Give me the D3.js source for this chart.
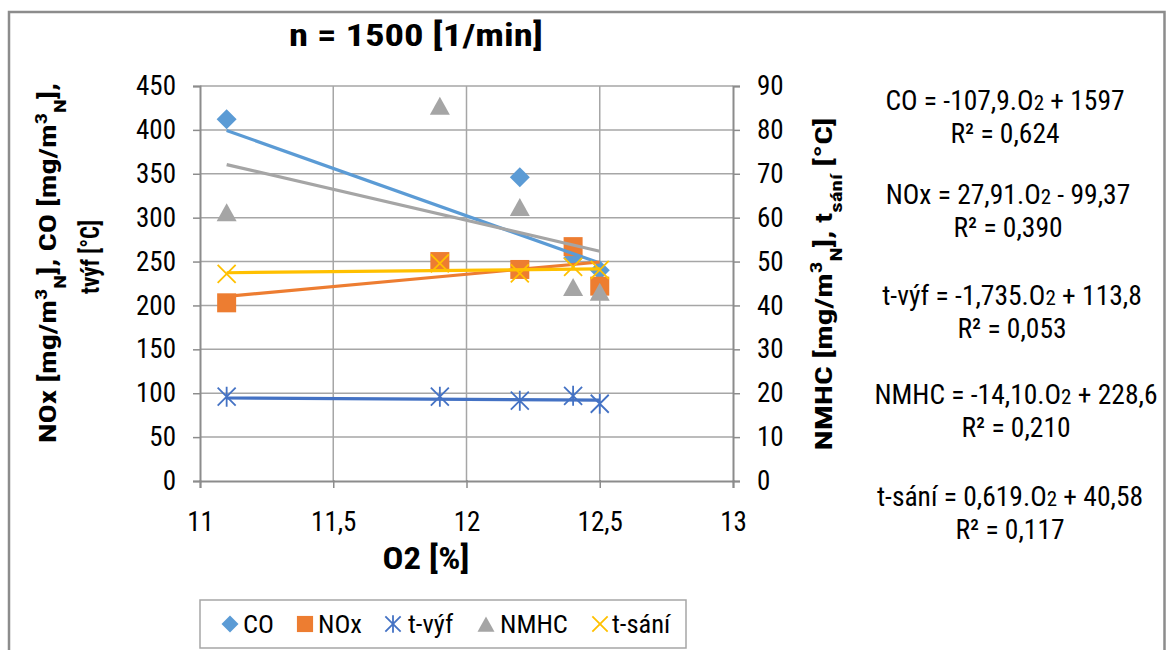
<!DOCTYPE html>
<html><head><meta charset="utf-8">
<script src="https://cdn.jsdelivr.net/npm/d3@7"></script>
<style>
body{margin:0;background:#fff;}
text{font-family:"Roboto Condensed","Liberation Sans Narrow","Arial Narrow",sans-serif;fill:#000;}
</style></head><body>
<svg id="c" width="1169" height="650"></svg>
<script>
const o2 = [11.1, 11.9, 12.2, 12.4, 12.5];
const coVals   = [412, null, 346, 254, 240];
const noxVals  = [203, 250, 241, 267, 222];
const tvyfVals = [96, 96, 91.5, 97, 88];
const nmhcVals = [61, 85.3, 62.2, 44, 42.9];
const tsaniVals= [47.2, 49.6, 47.3, 48.8, 48.1];
const seriesNames = ["CO","NOx","t-výf","NMHC","t-sání"];
const slopes = [-107.9, 27.91, -1.735, -14.10, 0.619];
const intercepts = [1597, -99.37, 113.8, 228.6, 40.58];
const eqLabels = ["CO = -107,9.O2 + 1597","NOx = 27,91.O2 - 99,37","t-výf = -1,735.O2 + 113,8","NMHC = -14,10.O2 + 228,6","t-sání = 0,619.O2 + 40,58"];
const r2Labels = ["R² = 0,624","R² = 0,390","R² = 0,053","R² = 0,210","R² = 0,117"];
const xTicks = [11, 11.5, 12, 12.5, 13];
const yLeftTicks = [0,50,100,150,200,250,300,350,400,450];
const yRightTicks = [0,10,20,30,40,50,60,70,80,90];

const colors = ["#5b9bd5","#ed7d31","#4472c4","#a5a5a5","#ffc000"];
const allVals = [coVals, noxVals, tvyfVals, nmhcVals, tsaniVals];
const axisOf = [0,0,0,1,1];

const svg = d3.select("#c");
const gridC = "#a6a6a6", axC = "#8c8c8c";
svg.append("path").attr("d","M9,652 V12 H1164.5 V652").attr("fill","none").attr("stroke","#8c8c8c").attr("stroke-width",2.5);

const x = d3.scaleLinear().domain([11,13]).range([200,733]);
const yL = d3.scaleLinear().domain([0,450]).range([481,86]);
const yR = d3.scaleLinear().domain([0,90]).range([481,86]);
const ys = [yL, yR];

svg.append("g").selectAll("line").data(yLeftTicks.slice(1)).join("line")
  .attr("x1",200).attr("x2",733).attr("y1",d=>yL(d)).attr("y2",d=>yL(d))
  .attr("stroke",gridC).attr("stroke-width",1.5);
svg.append("g").selectAll("line").data(xTicks.slice(1,-1)).join("line")
  .attr("x1",d=>x(d)).attr("x2",d=>x(d)).attr("y1",86).attr("y2",481)
  .attr("stroke",gridC).attr("stroke-width",1.5);

const axL = svg.append("g").attr("transform","translate(200,0)")
  .call(d3.axisLeft(yL).tickValues(yLeftTicks).tickSize(7).tickPadding(17).tickFormat(d3.format("d")));
const axR = svg.append("g").attr("transform","translate(733,0)")
  .call(d3.axisRight(yR).tickValues(yRightTicks).tickSize(7).tickPadding(17).tickFormat(d3.format("d")));
const axB = svg.append("g").attr("transform","translate(0,481)")
  .call(d3.axisBottom(x).tickValues(xTicks).tickSize(7).tickPadding(24).tickFormat(d=>String(d).replace(".",",")));
[axL,axR,axB].forEach(a=>{
  a.select(".domain").attr("stroke",axC).attr("stroke-width",2);
  a.selectAll(".tick line").attr("stroke",axC).attr("stroke-width",1.5);
  a.selectAll(".tick text").attr("font-size",27).attr("fill","#000")
   .attr("font-family","'Roboto Condensed','Liberation Sans Narrow',sans-serif");
});
axB.selectAll(".tick line").attr("y1",-1);

function marker(g, type, cx, cy, col, r){
  r = r || 10;
  if(type===0){ g.append("path").attr("d",`M${cx},${cy-r}L${cx+r},${cy}L${cx},${cy+r}L${cx-r},${cy}Z`).attr("fill",col); }
  else if(type===1){ const h=r*0.95; g.append("rect").attr("x",cx-h).attr("y",cy-h).attr("width",2*h).attr("height",2*h).attr("fill",col); }
  else if(type===2){
    const q=r*0.9;
    g.append("path").attr("d",`M${cx-q},${cy-q}L${cx+q},${cy+q}M${cx-q},${cy+q}L${cx+q},${cy-q}M${cx},${cy-q-1}L${cx},${cy+q+1}`)
     .attr("stroke",col).attr("stroke-width",1.8).attr("fill","none");
  }
  else if(type===3){ g.append("path").attr("d",`M${cx},${cy-r}L${cx+r},${cy+r*0.8}L${cx-r},${cy+r*0.8}Z`).attr("fill",col); }
  else if(type===4){
    const q=r*0.9;
    g.append("path").attr("d",`M${cx-q},${cy-q}L${cx+q},${cy+q}M${cx-q},${cy+q}L${cx+q},${cy-q}`)
     .attr("stroke",col).attr("stroke-width",1.8).attr("fill","none");
  }
}

const plot = svg.append("g");
const xMin = d3.min(o2), xMax = d3.max(o2);
function drawSeries(i){
  const y = ys[axisOf[i]];
  const g = plot.append("g");
  allVals[i].forEach((v,j)=>{ if(v!==null) marker(g,i,x(o2[j]),y(v),colors[i]); });
}
function drawTrend(i){
  const y = ys[axisOf[i]];
  const line = d3.line().x(d=>x(d)).y(d=>y(slopes[i]*d+intercepts[i]));
  plot.append("path").attr("d",line([xMin,xMax])).attr("stroke",colors[i]).attr("stroke-width",3.2).attr("fill","none");
}
[0,1,2].forEach(drawSeries);
[0,1,2].forEach(drawTrend);
[3,4].forEach(drawSeries);
[3,4].forEach(drawTrend);

// title
svg.append("text").attr("x",416).attr("y",46).attr("text-anchor","middle").attr("font-size",32).attr("font-weight","bold")
  .attr("font-family","'Liberation Sans',Arial,sans-serif")
  .attr("textLength",254).attr("lengthAdjust","spacingAndGlyphs")
  .text("n = 1500 [1/min]");

// x-axis title
svg.append("text").attr("x",426).attr("y",569).attr("text-anchor","middle").attr("font-size",32).attr("font-weight","bold")
  .attr("textLength",87).attr("lengthAdjust","spacingAndGlyphs").text("O2 [%]");

function supSub(t, parts){
  parts.forEach(p=>{
    const s = t.append("tspan").text(p[0]);
    if(p[1]){ s.attr("baseline-shift",p[1]).attr("font-size","70%"); }
  });
}
// left y title
const lt = svg.append("text").attr("transform","translate(56,263) rotate(-90)").attr("text-anchor","middle")
  .attr("font-size",23).attr("font-weight","bold").attr("textLength",360).attr("lengthAdjust","spacingAndGlyphs");
supSub(lt, [["NOx [mg/m"],["3","super"],["N","sub"],["], CO [mg/m"],["3","super"],["N","sub"],["],"]]);
svg.append("text").attr("transform","translate(99,257) rotate(-90)").attr("text-anchor","middle")
  .attr("font-size",25).attr("font-weight","bold").attr("textLength",74).attr("lengthAdjust","spacingAndGlyphs").text("tvýf [°C]");

// right y title
const rt = svg.append("text").attr("transform","translate(832,284) rotate(-90)").attr("text-anchor","middle")
  .attr("font-size",24).attr("font-weight","bold").attr("textLength",333).attr("lengthAdjust","spacingAndGlyphs");
supSub(rt, [["NMHC [mg/m"],["3","super"],["N","sub"],["], t"],["sání","sub"],[" [°C]"]]);

// equations
const eqY = [110,204,305,404,506];
const eqX = [1005,1008,1012,1016,1010];
eqLabels.forEach((lab,i)=>{
  const t = svg.append("text").attr("x",eqX[i]).attr("y",eqY[i]).attr("text-anchor","middle").attr("font-size",27.5);
  const parts = lab.split("O2");
  t.append("tspan").text(parts[0]+"O");
  t.append("tspan").attr("font-size",21).text("2");
  t.append("tspan").text(parts[1]);
  svg.append("text").attr("x",eqX[i]).attr("y",eqY[i]+33).attr("text-anchor","middle").attr("font-size",27.5).text(r2Labels[i]);
});

// legend
svg.append("rect").attr("x",200).attr("y",600).attr("width",486).attr("height",48).attr("fill","#fff").attr("stroke","#a6a6a6").attr("stroke-width",1.5);
const legX = [230,305,393,486,600];
const legT = [243,318,408,500,612];
const lg = svg.append("g");
seriesNames.forEach((n,i)=>{
  const g = lg.append("g");
  marker(g,i,legX[i],i===3?625:624,colors[i],8.5);
  lg.append("text").attr("x",legT[i]).attr("y",633).attr("font-size",26.5).text(n);
});
</script>
</body></html>
